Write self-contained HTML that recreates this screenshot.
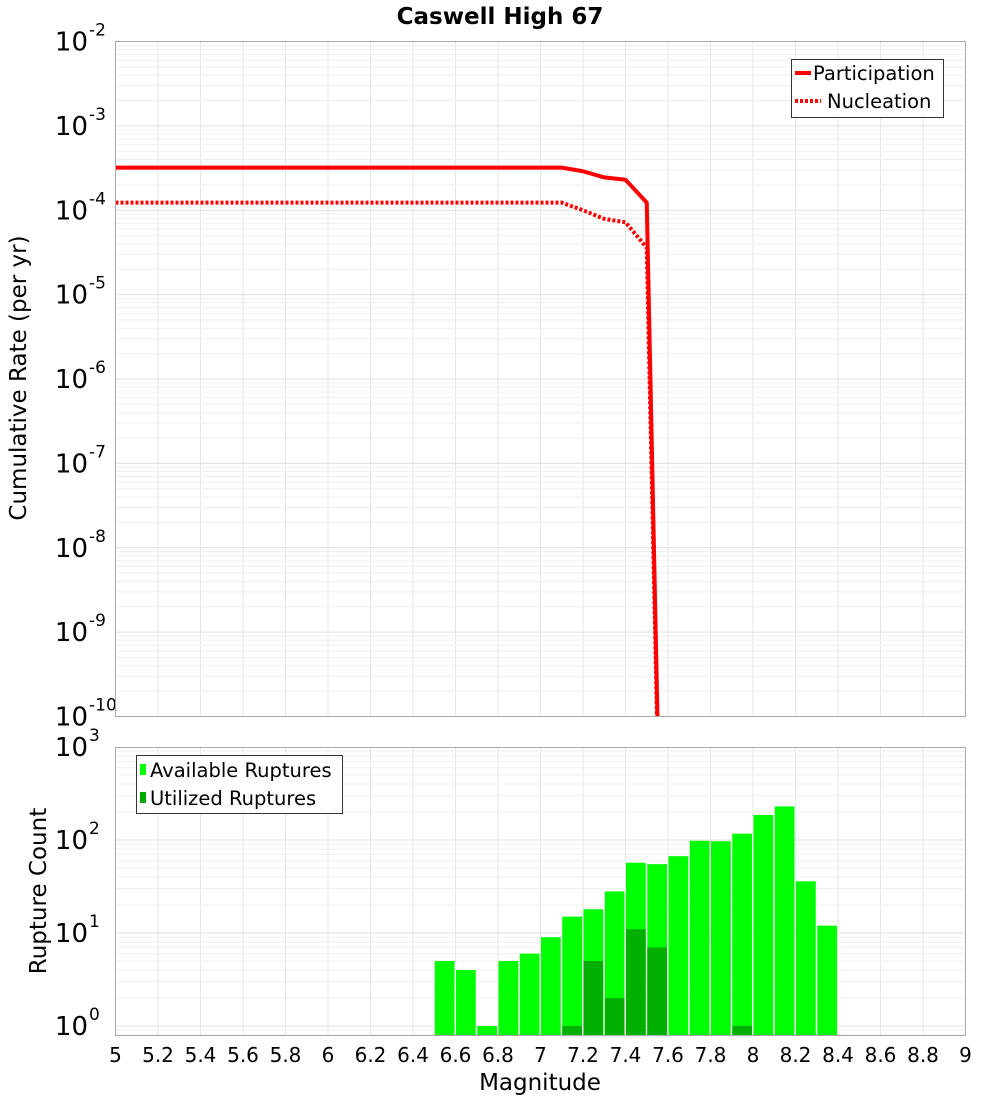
<!DOCTYPE html>
<html><head><meta charset="utf-8"><style>
html,body{margin:0;padding:0;background:#fff;overflow:hidden;width:1000px;height:1100px;}
svg{display:block;}
svg text{font-family:"DejaVu Sans","Liberation Sans",sans-serif;}
</style></head><body>
<svg id="chart" width="1000" height="1100" xmlns="http://www.w3.org/2000/svg">
<text x="500" y="24" text-anchor="middle" font-size="23" font-weight="bold">Caswell High 67</text>
<g id="gtop"></g>
<g id="gbot"></g>
<text transform="translate(26,378) rotate(-90)" text-anchor="middle" font-size="23">Cumulative Rate (per yr)</text>
<text transform="translate(46,891) rotate(-90)" text-anchor="middle" font-size="23">Rupture Count</text>
<text x="540" y="1090" text-anchor="middle" font-size="23">Magnitude</text>
<g>
<rect x="791.5" y="59.5" width="152" height="58" fill="#fff" stroke="#333"/>
<line x1="795" y1="73" x2="811" y2="73" stroke="#f00" stroke-width="4"/>
<text x="813" y="80" font-size="19.5">Participation</text>
<line x1="795" y1="101" x2="821" y2="101" stroke="#f00" stroke-width="4" stroke-dasharray="3,2"/>
<text x="827" y="108" font-size="19.5">Nucleation</text>
</g>
<g>
<rect x="136.5" y="755.5" width="206" height="58" fill="#fff" stroke="#333"/>
<rect x="140" y="764" width="6" height="11" fill="#00ff00"/>
<text x="150" y="777" font-size="19.5">Available Ruptures</text>
<rect x="140" y="792" width="6" height="11" fill="#00aa00"/>
<text x="150" y="805" font-size="19.5">Utilized Ruptures</text>
</g>
</svg>
<script>
const magsRate=[5.0,7.1,7.2,7.3,7.4,7.5,7.6];
const participation=[3.2e-4,3.2e-4,2.9e-4,2.45e-4,2.3e-4,1.23e-4,1e-16];
const nucleation=[1.23e-4,1.23e-4,1.0e-4,7.9e-5,7.2e-5,3.6e-5,1e-16];
const barMags=[6.55,6.65,6.75,6.85,6.95,7.05,7.15,7.25,7.35,7.45,7.55,7.65,7.75,7.85,7.95,8.05,8.15,8.25,8.35];
const available=[5,4,1,5,6,9,15,18,28,57,55,67,98,97,117,186,230,36,12];
const utilized=[0,0,0,0,0,0,1,5,2,11,7,0,0,0,1,0,0,0,0];
const xTicks=[5,5.2,5.4,5.6,5.8,6,6.2,6.4,6.6,6.8,7,7.2,7.4,7.6,7.8,8,8.2,8.4,8.6,8.8,9];

const NS="http://www.w3.org/2000/svg";
function mk(p,t,a){const e=document.createElementNS(NS,t);for(const k in a)e.setAttribute(k,a[k]);p.appendChild(e);return e;}
const L=115.5,R=965.5;
const X=m=>L+(m-5)/4*(R-L);
const T1=41.5,B1=716.5;
const Y1=v=>T1+(-2-Math.log10(v))*(B1-T1)/8;
const T2=747.5,B2=1035.5;
const Y2=v=>1026+(-Math.log10(v))*93;
const gTop=document.getElementById('gtop'),gBot=document.getElementById('gbot');
const defs=mk(document.getElementById('chart'),'defs',{});
const c1=mk(defs,'clipPath',{id:'c1'});mk(c1,'rect',{x:L,y:T1,width:R-L,height:B1-T1});
const c2=mk(defs,'clipPath',{id:'c2'});mk(c2,'rect',{x:L,y:T2,width:R-L,height:B2-T2});
function grid(g,T,B,yf,dmin,dmax){
 for(const m of xTicks){const l=mk(g,'line',{x1:X(m),x2:X(m),y1:T,y2:B,stroke:'#e6e6e6'});
 
 }
 for(let d=dmin;d<dmax+1;d++)for(let k=1;k<10;k++){const y=yf(k*Math.pow(10,d));if(y<T||y>B)continue;
 const l=mk(g,'line',{x1:L,x2:R,y1:y,y2:y,stroke:k==1?'#e0e0e0':'#efefef'});
 
 }
}
grid(gTop,T1,B1,Y1,-10,-2);
grid(gBot,T2,B2,Y2,-1,3);
function ylab(g,y,exp){const t=mk(g,'text',{x:88,y:y+9,'text-anchor':'end','font-size':'26'});t.textContent='10';
 
 
 const s=mk(g,'text',{x:89,y:y-6,'font-size':'17'});s.textContent=exp;}
for(let d=-2;d>=-10;d--)ylab(gTop,Y1(Math.pow(10,d)),String(d));
for(let d=3;d>=0;d--)ylab(gBot,Y2(Math.pow(10,d)),String(d));
function path(arr,dash){
 let d='';let px=null,py=null;
 for(let i=0;i<arr.length;i++){
  let x=X(magsRate[i]),y=Y1(arr[i]);
  if(y>B1){ if(px!==null){x=px+(x-px)*(B1-py)/(y-py);y=B1;d+='L'+x+','+y;} break; }
  d+=(i?'L':'M')+x+','+y;px=x;py=y;
 }
 const p=mk(gTop,'path',{d:d,fill:'none',stroke:'#f00','stroke-width':4,'clip-path':'url(#c1)','stroke-linejoin':'round'});
 if(dash)p.setAttribute('stroke-dasharray','3,2');return p;}
const pp=path(participation,false);


const np=path(nucleation,true);


const bw=(X(0.1)-X(0));
barMags.forEach((m,i)=>{
 const x=X(m)-bw/2+0.5,w=bw-1.5;
 const y=Y2(available[i]);
 const r=mk(gBot,'rect',{x:x,y:y,width:w,height:B2-y,fill:'#00ff00','clip-path':'url(#c2)'});
 
 
 if(utilized[i]>0){const yu=Y2(utilized[i]);
 const u=mk(gBot,'rect',{x:x,y:yu,width:w,height:B2-yu,fill:'#00b000','clip-path':'url(#c2)'});
 
 }
});
mk(gTop,'rect',{x:L,y:T1,width:R-L,height:B1-T1,fill:'none',stroke:'#aaa'});
mk(gBot,'rect',{x:L,y:T2,width:R-L,height:B2-T2,fill:'none',stroke:'#aaa'});
for(const m of xTicks){const t=mk(gBot,'text',{x:X(m),y:1062,'text-anchor':'middle','font-size':'20'});t.textContent=String(m);
 
 }
</script>
</body></html>
